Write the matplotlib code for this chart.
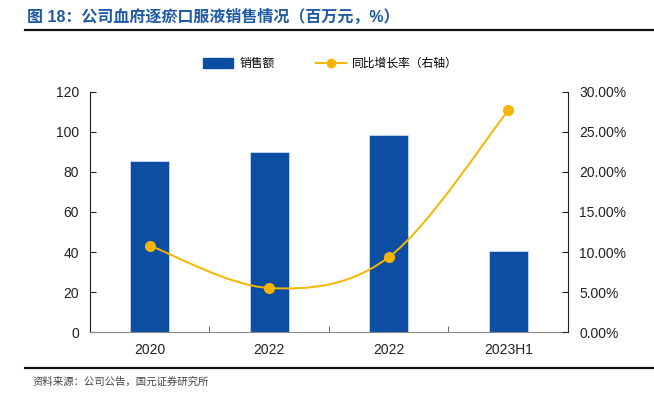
import matplotlib.pyplot as plt
import numpy as np
from matplotlib.path import Path
from matplotlib.patches import PathPatch, Patch
from matplotlib.lines import Line2D
from matplotlib.ticker import FuncFormatter

plt.rcParams['font.family'] = ['Liberation Sans', 'Noto Sans CJK SC', 'DejaVu Sans']

categories = ['2020', '2022', '2022', '2023H1']
sales = [85.5, 90.2, 98.5, 40.5]
growth = [10.8, 5.5, 9.35, 27.7]

BLUE = '#0b4ea2'
GOLD = '#f7b500'
TITLE_BLUE = '#1f5aa6'


def smooth_path(xs, ys, t=0.5):
    # catmull-rom segments as cubic beziers
    xs = np.asarray(xs, float)
    ys = np.asarray(ys, float)
    n = len(xs)
    verts = [(xs[0], ys[0])]
    codes = [Path.MOVETO]
    for i in range(n - 1):
        x0, y0 = (xs[i - 1], ys[i - 1]) if i > 0 else (xs[i], ys[i])
        x3, y3 = (xs[i + 2], ys[i + 2]) if i + 2 < n else (xs[i + 1], ys[i + 1])
        x1, y1 = xs[i], ys[i]
        x2, y2 = xs[i + 1], ys[i + 1]
        c1 = (x1 + (x2 - x0) * t / 3, y1 + (y2 - y0) * t / 3)
        c2 = (x2 - (x3 - x1) * t / 3, y2 - (y3 - y1) * t / 3)
        verts += [c1, c2, (x2, y2)]
        codes += [Path.CURVE4] * 3
    return Path(verts, codes)


fig = plt.figure(figsize=(6.54, 3.96), dpi=100)
ax = fig.add_axes([0.1376, 0.1616, 0.7309, 0.6061])
x = np.arange(len(categories))

ax.bar(x, sales, width=0.33, color=BLUE, edgecolor='#c9d8ee', linewidth=0.6, zorder=2)
ax.set_xlim(-0.5, len(categories) - 0.5)
ax.set_ylim(0, 120)
ax.set_yticks(range(0, 121, 20))
ax.set_xticks(x)
ax.set_xticklabels(categories)
ax.set_xticks(np.arange(0.5, len(categories) - 1, 1), minor=True)
ax.tick_params(axis='x', which='major', length=0, pad=8, labelsize=10, colors='#222222')
ax.tick_params(axis='x', which='minor', length=4, direction='in', color='#555555')
ax.tick_params(axis='y', length=4, direction='in', labelsize=10, colors='#222222', pad=8)
ax.spines['top'].set_visible(False)
ax.spines['right'].set_visible(False)
ax.spines['bottom'].set_color('#888888')
ax.spines['left'].set_color('#222222')

ax2 = ax.twinx()
ax2.set_ylim(0, 30)
ax2.set_yticks(np.arange(0, 31, 5))
ax2.yaxis.set_major_formatter(FuncFormatter(lambda v, p: f'{v:.2f}%'))
ax2.tick_params(axis='y', length=4, direction='in', labelsize=10, colors='#222222', pad=8)
ax2.spines['top'].set_visible(False)
ax2.spines['left'].set_visible(False)
ax2.spines['bottom'].set_visible(False)
ax2.spines['right'].set_color('#222222')

ax2.add_patch(PathPatch(smooth_path(x, growth), facecolor='none', edgecolor=GOLD, lw=1.4, zorder=3))
ax2.plot(x, growth, linestyle='none', marker='o', markersize=7, color=GOLD, zorder=4)

handles = [Patch(color=BLUE), Line2D([0], [0], color=GOLD, lw=1.4, marker='o', markersize=6)]
fig.legend(handles, ['销售额', '同比增长率（右轴）'], loc='center', bbox_to_anchor=(0.505, 0.838),
           ncol=2, frameon=False, fontsize=8.5, handlelength=2.6, handleheight=0.9,
           columnspacing=3.5, handletextpad=0.5)

fig.text(0.041, 0.958, '图 18：公司血府逐瘀口服液销售情况（百万元，%）', fontsize=11.5,
         fontweight='bold', color=TITLE_BLUE, va='center')
fig.add_artist(Line2D([0.038, 1.0], [0.924, 0.924], color='#111111', lw=1.6))
fig.add_artist(Line2D([0.038, 1.0], [0.071, 0.071], color='#111111', lw=1.6))
fig.text(0.05, 0.036, '资料来源：公司公告，国元证券研究所', fontsize=7.5, color='#444444', va='center')

fig.savefig('out.png', dpi=100)
